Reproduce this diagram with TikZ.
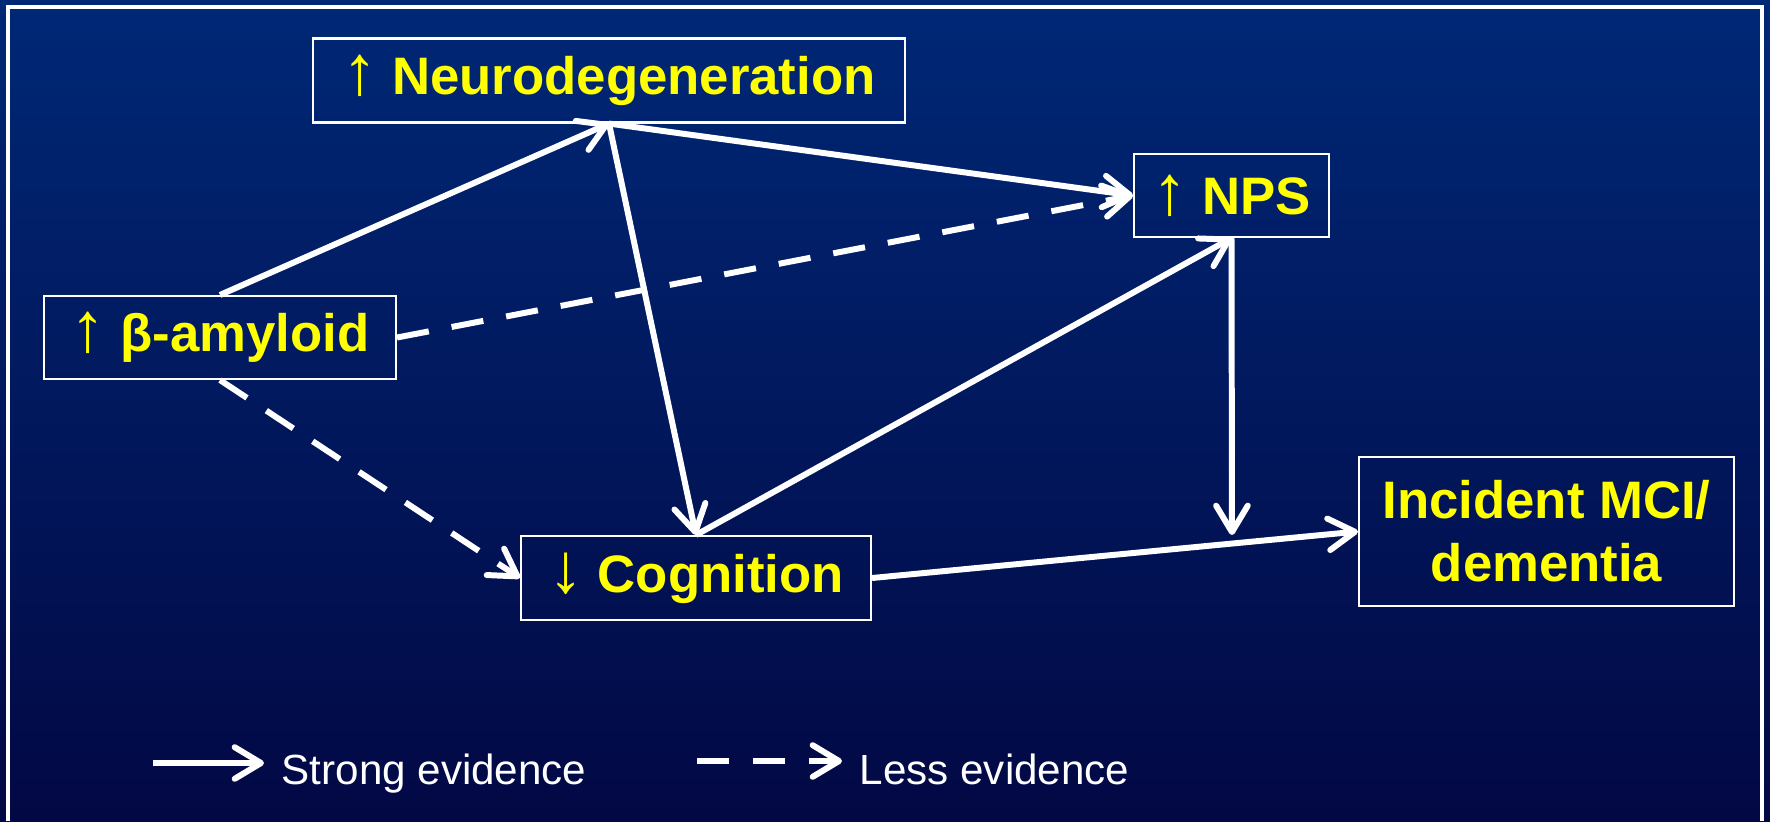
\documentclass[tikz,border=0pt]{standalone}
\usepackage{fontspec}
\setmainfont{Liberation Sans}
\usetikzlibrary{arrows.meta,positioning}

\definecolor{bgtop}{RGB}{0,40,118}
\definecolor{bgbottom}{RGB}{2,8,68}
\definecolor{labelyellow}{RGB}{255,255,0}
\newcommand{\uparr}{{\fontsize{20}{18}\selectfont\char"2191}}
\newcommand{\downarr}{{\fontsize{20}{18}\selectfont\char"2193}}

\begin{document}
\begin{tikzpicture}[x=0.1mm, y=-0.1mm,
    factor/.style={draw=white, line width=0.6pt, text=labelyellow, inner sep=0pt,
        align=center, font=\fontsize{15}{17.9}\selectfont\bfseries},
    strongarr/.style={white, line width=1.7pt,
        -{Straight Barb[length=7.5pt, width=9pt, round]}},
    lessarr/.style={strongarr, dash pattern=on 9.2pt off 6.6pt},
    legendtext/.style={text=white, inner sep=0pt, anchor=base west,
        font=\fontsize{12}{14}\selectfont}]
    \useasboundingbox (0,0) rectangle (1770,821);
    \shade[top color=bgtop, bottom color=bgbottom] (0,0) rectangle (1770,821);
    \draw[white, line width=0.9pt] (8,821) -- (8,7) -- (1762,7) -- (1762,821);

    \node[factor, minimum width=59.2mm, minimum height=8.4mm] at (609, 80.5)(neuro){\uparr\ Neurodegeneration};
    \node[factor, minimum width=19.5mm, minimum height=8.3mm] at (1231.5, 195.5)(nps){\uparr\ NPS};
    \node[factor, minimum width=35.2mm, minimum height=8.3mm] at (220, 337.5)(amy){\uparr\ β-amyloid};
    \node[factor, minimum width=35mm, minimum height=8.4mm] at (696, 578)(cog){\downarr\ Cognition};
    \node[factor, minimum width=37.5mm, minimum height=14.9mm] at (1546.5, 531.5)(inc){Incident MCI/\\dementia};
    \coordinate (npsdrop) at (1232, 535);

    \path[strongarr]
    (amy.north)edge (neuro.south)
    (neuro.south)edge (nps.west)
    (neuro.south)edge (cog.north)
    (cog.north)edge (nps.south)
    (nps.south)edge (npsdrop)
    (cog.east)edge (inc.west)
    ;
    \path[lessarr]
    (amy.east)edge (nps.west)
    (amy.south)edge (cog.west)
    ;

    % legend
    \coordinate (strongstart) at (153, 763);
    \coordinate (strongend) at (264, 763);
    \coordinate (lessstart) at (697, 761);
    \coordinate (lessend) at (842, 761);
    \draw[strongarr] (strongstart) -- (strongend);
    \draw[lessarr, dash pattern=on 9.1pt off 6.8pt] (lessstart) -- (lessend);
    \node[legendtext] at (281, 784)(strongtxt){Strong evidence};
    \node[legendtext] at (859, 784)(lesstxt){Less evidence};
\end{tikzpicture}
\end{document}
